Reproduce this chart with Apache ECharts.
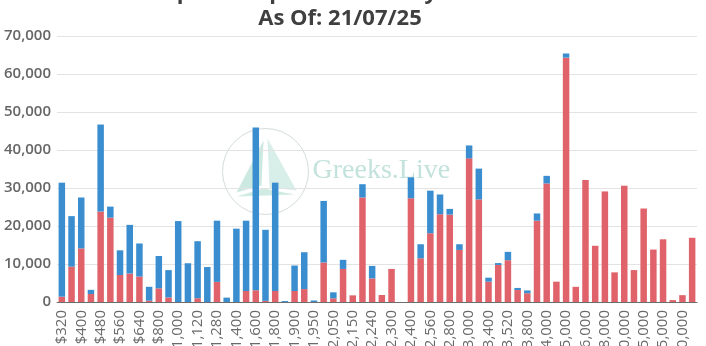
<!DOCTYPE html>
<html>
<head>
<meta charset="utf-8">
<script src="https://cdn.jsdelivr.net/npm/echarts@6/dist/echarts.min.js"></script>
<style>
  html, body { margin: 0; padding: 0; background: #fff; }
  #chart { width: 706px; height: 346px; }
</style>
</head>
<body>
<div id="chart"></div>
<script>
// Strike prices (every other one is labelled on the axis)
const strikes = [
  '$320', '$360', '$400', '$440', '$480', '$520', '$560', '$600', '$640', '$720',
  '$800', '$900', '$1,000', '$1,040', '$1,120', '$1,200', '$1,280', '$1,360', '$1,400', '$1,500',
  '$1,600', '$1,700', '$1,800', '$1,850', '$1,900', '$1,920', '$1,950', '$2,000', '$2,050', '$2,100',
  '$2,150', '$2,200', '$2,240', '$2,250', '$2,300', '$2,350', '$2,400', '$2,500', '$2,560', '$2,700',
  '$2,800', '$2,900', '$3,000', '$3,200', '$3,400', '$3,500', '$3,520', '$3,600', '$3,800', '$3,900',
  '$4,000', '$4,500', '$5,000', '$5,500', '$6,000', '$7,000', '$8,000', '$9,000', '$10,000', '$12,000',
  '$15,000', '$20,000', '$25,000', '$30,000', '$50,000', '$100,000'
];

// Lower segment of each stacked bar (red)
const callsOI = [
  1400, 9300, 14100, 2100, 23800, 22200, 7100, 7500, 6700, 350,
  3600, 1200, 0, 0, 1000, 0, 5300, 0, 0, 2900,
  3100, 300, 2900, 0, 2900, 3400, 0, 10400, 970, 8700,
  1750, 27500, 6200, 1850, 8700, 0, 27300, 11500, 18100, 23100,
  23000, 13700, 37800, 27000, 5350, 9750, 11000, 3150, 2300, 21400,
  31200, 5350, 64300, 4000, 32100, 14800, 29100, 7800, 30600, 8400,
  24600, 13800, 16500, 500, 1800, 16900
];

// Upper segment of each stacked bar (blue)
const putsOI = [
  30000, 13300, 13400, 1100, 22900, 2900, 6500, 12800, 8700, 3650,
  8500, 7200, 21300, 10200, 15000, 9200, 16100, 1150, 19300, 18500,
  42800, 18700, 28500, 250, 6700, 9700, 400, 16200, 1580, 2400,
  0, 3500, 3300, 0, 0, 0, 5500, 3700, 11200, 5200,
  1500, 1500, 3400, 8100, 1050, 500, 2200, 550, 750, 1900,
  2000, 0, 1100, 0, 0, 0, 0, 0, 0, 0,
  0, 0, 0, 0, 0, 0
];

const yTicks = { min: 0, max: 70000, interval: 10000 };

const chart = echarts.init(document.getElementById('chart'), null, { renderer: 'canvas' });

const fmt = v => Number(v).toLocaleString('en-US');

chart.setOption({
  animation: false,
  backgroundColor: '#ffffff',
  textStyle: { fontFamily: 'Open Sans' },
  title: {
    text: 'ETH Options Open Interest By Strike Price\nAs Of: 21/07/25',
    left: 335,
    textAlign: 'center',
    top: -25,
    textStyle: {
      fontFamily: 'Open Sans',
      fontSize: 22,
      fontWeight: 'bold',
      lineHeight: 26,
      color: '#3f3f3f'
    }
  },
  grid: { left: 57, right: 9, top: 36, bottom: 44, containLabel: false, outerBoundsMode: 'none' },
  graphic: [
    {
      type: 'group',
      left: 220,
      top: 126,
      silent: true,
      z: -10,
      children: [
        { type: 'circle', shape: { cx: 43, cy: 43, r: 43 },
          style: { fill: 'none', stroke: '#d5dcdc', lineWidth: 1 } },
        { type: 'polygon', shape: { points: [[41, 12], [14, 64], [39, 57]] },
          style: { fill: '#bfe3da', opacity: 0.8 } },
        { type: 'polygon', shape: { points: [[45, 10], [74, 62], [47, 59]] },
          style: { fill: '#cdeae3', opacity: 0.8 } },
        { type: 'polygon', shape: { points: [[14, 68], [72, 66], [41, 60]] },
          style: { fill: '#c4e5dd', opacity: 0.8 } },
        { type: 'text', x: 90, y: 28,
          style: { text: 'Greeks.Live', fill: '#c3e2dc', font: '28px "Liberation Serif", serif' } }
      ]
    }
  ],
  xAxis: {
    type: 'category',
    data: strikes,
    axisLine: { lineStyle: { color: '#6e6e6e', width: 1 } },
    axisTick: { length: 5, lineStyle: { color: '#6e6e6e' } },
    axisLabel: {
      interval: 1,
      rotate: 90,
      margin: 8,
      fontSize: 15,
      color: '#6a6a6a',
      fontFamily: 'Open Sans'
    }
  },
  yAxis: {
    type: 'value',
    min: yTicks.min,
    max: yTicks.max,
    interval: yTicks.interval,
    axisLine: { show: false },
    axisTick: { show: false },
    axisLabel: {
      formatter: fmt,
      fontSize: 15,
      fontWeight: 600,
      margin: 6,
      color: '#666666',
      fontFamily: 'Open Sans'
    },
    splitLine: { lineStyle: { color: '#e3e3e3', width: 1 } }
  },
  series: [
    {
      name: 'Calls',
      type: 'bar',
      stack: 'oi',
      data: callsOI,
      barCategoryGap: '33%',
      itemStyle: { color: '#e0636b' }
    },
    {
      name: 'Puts',
      type: 'bar',
      stack: 'oi',
      data: putsOI,
      barCategoryGap: '33%',
      itemStyle: { color: '#3a8ed0' }
    }
  ]
});
</script>
</body>
</html>
